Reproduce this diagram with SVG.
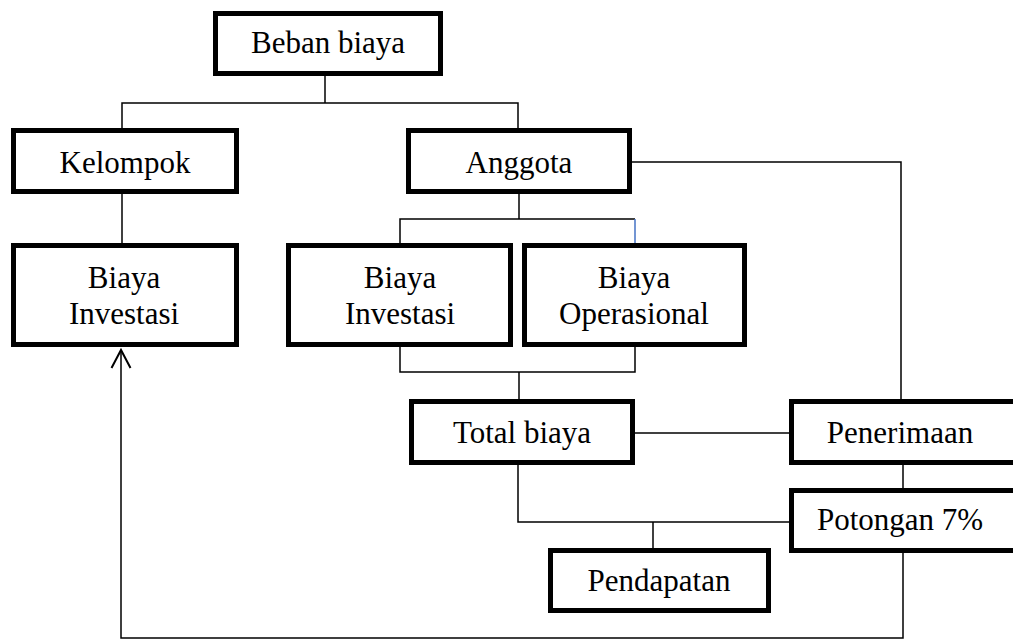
<svg xmlns="http://www.w3.org/2000/svg" width="1013" height="639" viewBox="0 0 1013 639">
<defs>
<style>
.box{fill:#fff;stroke:#000;stroke-width:5}
.ln{fill:none;stroke:#000;stroke-width:1.5}
.t{font-family:"Liberation Serif","Times New Roman",serif;font-size:31px;fill:#000;text-anchor:middle}
</style>
<marker id="arr" viewBox="0 0 22 22" refX="19" refY="11" markerWidth="22" markerHeight="22" markerUnits="userSpaceOnUse" orient="auto">
<path d="M1 1.5 L19 11 L1 20.5" fill="none" stroke="#000" stroke-width="2"/>
</marker>
</defs>
<rect width="1013" height="639" fill="#fff"/>
<g id="connectors">
<path class="ln" d="M325 76 V103"/>
<path class="ln" d="M122 128 V103 H518 V128"/>
<path class="ln" d="M122 194 V243"/>
<path class="ln" d="M632 162 H901 V399"/>
<path class="ln" d="M519 194 V219"/>
<path class="ln" d="M400 243 V219 H635"/>
<path fill="none" stroke="#4472C4" stroke-width="1.5" d="M635 219 V243"/>
<path class="ln" d="M400 347 V372 H635 V347"/>
<path class="ln" d="M519 372 V399"/>
<path class="ln" d="M635 433 H789"/>
<path class="ln" d="M903 465 V488"/>
<path class="ln" d="M518 465 V522 H789"/>
<path class="ln" d="M653 522 V548"/>
<path class="ln" d="M903 553 V638 H121 V350" stroke-width="2" marker-end="url(#arr)"/>
</g>
<g id="beban-biaya"><rect class="box" x="215.5" y="13.5" width="225" height="60"/><text class="t" x="328" y="53">Beban biaya</text></g>
<g id="kelompok"><rect class="box" x="13.5" y="130.5" width="223" height="61"/><text class="t" x="125" y="173">Kelompok</text></g>
<g id="anggota"><rect class="box" x="408.5" y="130.5" width="221" height="61"/><text class="t" x="519" y="173">Anggota</text></g>
<g id="biaya-investasi-kelompok"><rect class="box" x="13.5" y="245.5" width="223" height="99"/><text class="t" x="124" y="288">Biaya</text><text class="t" x="124" y="324">Investasi</text></g>
<g id="biaya-investasi-anggota"><rect class="box" x="288.5" y="245.5" width="222" height="99"/><text class="t" x="400" y="288">Biaya</text><text class="t" x="400" y="324">Investasi</text></g>
<g id="biaya-operasional"><rect class="box" x="524.5" y="245.5" width="220" height="99"/><text class="t" x="634" y="288">Biaya</text><text class="t" x="634" y="324">Operasional</text></g>
<g id="total-biaya"><rect class="box" x="411.5" y="401.5" width="221" height="61"/><text class="t" x="522" y="443">Total biaya</text></g>
<g id="penerimaan"><rect class="box" x="791.5" y="401.5" width="240" height="61"/><text class="t" x="900" y="443">Penerimaan</text></g>
<g id="potongan"><rect class="box" x="791.5" y="490.5" width="240" height="60"/><text class="t" x="900" y="530">Potongan 7%</text></g>
<g id="pendapatan"><rect class="box" x="550.5" y="550.5" width="218" height="60"/><text class="t" x="659" y="591">Pendapatan</text></g>
</svg>
